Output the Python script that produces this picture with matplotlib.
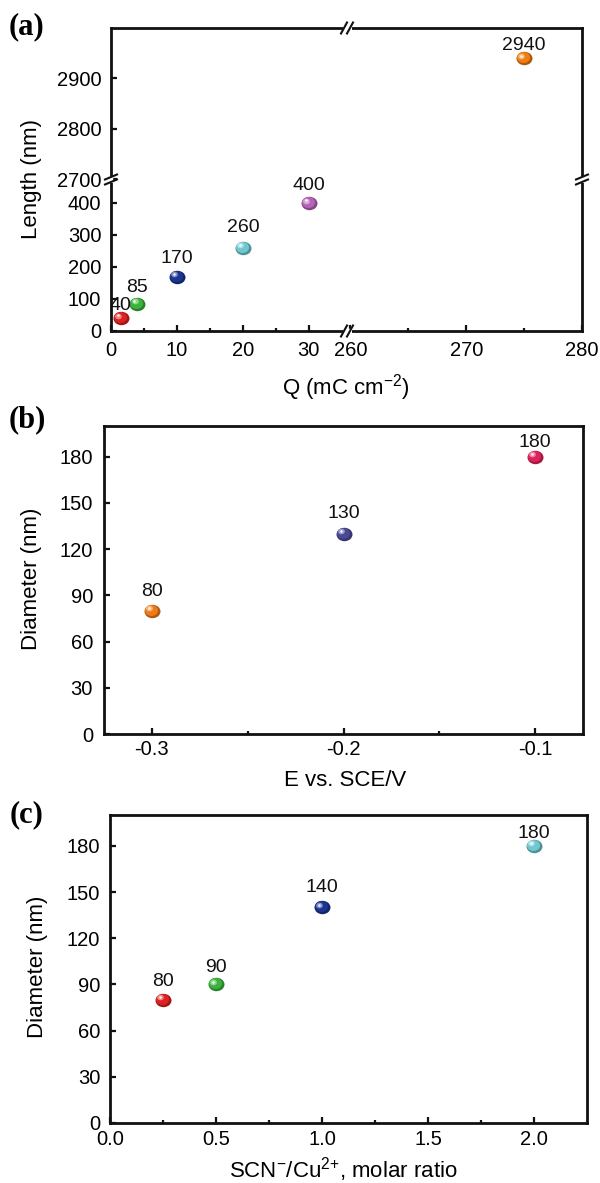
import numpy as np
import matplotlib
matplotlib.use("Agg")
import matplotlib.pyplot as plt
from matplotlib.path import Path
from matplotlib.colors import to_rgb
from matplotlib.transforms import ScaledTranslation
from matplotlib.ticker import FixedLocator, NullLocator, FixedFormatter

# ---------------- data ----------------
# (a) nanowire length vs. charge density
q_charge = [1.5, 4, 10, 20, 30, 275]
length_nm = [40, 85, 170, 260, 400, 2940]
length_labels = ["40", "85", "170", "260", "400", "2940"]
colors_a = ["#dd2222", "#3cb43c", "#1b3591", "#6fc8cf", "#b563b6", "#f07c12"]

# (b) diameter vs. potential
potential_v = [-0.3, -0.2, -0.1]
diameter_b = [80, 130, 180]
diameter_b_labels = ["80", "130", "180"]
colors_b = ["#f07a1a", "#4a4994", "#e0225c"]

# (c) diameter vs. SCN-/Cu2+ ratio
molar_ratio = [0.25, 0.5, 1.0, 2.0]
diameter_c = [80, 90, 140, 180]
diameter_c_labels = ["80", "90", "140", "180"]
colors_c = ["#dd2222", "#3cb43c", "#1b3591", "#6fc8cf"]

# tick labels
xticks_a = [0, 10, 20, 30, 260, 270, 280]
xminor_a = [5, 15, 25, 265, 275]
yticks_a = [0, 100, 200, 300, 400, 2700, 2800, 2900]
xticks_b = [-0.3, -0.2, -0.1]
xticklabels_b = ["-0.3", "-0.2", "-0.1"]
xminor_b = [-0.25, -0.15]
yticks_bc = [0, 30, 60, 90, 120, 150, 180]
xticks_c = [0.0, 0.5, 1.0, 1.5, 2.0]
xminor_c = [0.25, 0.75, 1.25, 1.75]

# ---------------- style ----------------
plt.rcParams["font.family"] = ["Liberation Sans", "DejaVu Sans"]
plt.rcParams["mathtext.fontset"] = "custom"
plt.rcParams["mathtext.rm"] = "Liberation Sans"
plt.rcParams["mathtext.it"] = "Liberation Sans:italic"
plt.rcParams["mathtext.bf"] = "Liberation Sans:bold"

W, H = 600, 1183
fig = plt.figure(figsize=(W / 100, H / 100), dpi=100)


def ax_at(left, top, right, bottom):
    return fig.add_axes([left / W, (H - bottom) / H, (right - left) / W, (bottom - top) / H])


TICK_FS = 14.5
LABEL_FS = 16
ANN_FS = 14

_uc = Path.unit_circle()
ELL = Path(_uc.vertices * np.array([1.0, 0.84]), _uc.codes)


def sphere(ax, x, y, color, size=11.5):
    base = np.array(to_rgb(color))
    dark = base * 0.72
    light = base + (1 - base) * 0.45
    ax.plot([x], [y], ls="none", marker=ELL, ms=size, mfc=dark, mec="none", zorder=5)
    t1 = ax.transData + ScaledTranslation(-0.7 / 72, 0.7 / 72, fig.dpi_scale_trans)
    ax.plot([x], [y], ls="none", marker=ELL, ms=size * 0.82, mfc=base, mec="none",
            transform=t1, zorder=6)
    t2 = ax.transData + ScaledTranslation(-1.9 / 72, 1.7 / 72, fig.dpi_scale_trans)
    ax.plot([x], [y], ls="none", marker=ELL, ms=size * 0.42, mfc=light, mec="none",
            transform=t2, zorder=7)
    t3 = ax.transData + ScaledTranslation(-2.1 / 72, 2.0 / 72, fig.dpi_scale_trans)
    ax.plot([x], [y], ls="none", marker="o", ms=size * 0.16, mfc="white", mec="none",
            alpha=0.9, transform=t3, zorder=8)


def style_axes(ax, xpad, ypad):
    for s in ax.spines.values():
        s.set_linewidth(2.0)
        s.set_color("#111111")
    ax.tick_params(which="both", direction="in", top=False, right=False,
                   labelsize=TICK_FS, color="#111111")
    ax.tick_params(which="major", length=4.5, width=1.6)
    ax.tick_params(which="minor", length=2.5, width=1.6)
    ax.tick_params(axis="x", pad=xpad)
    ax.tick_params(axis="y", pad=ypad)


def annotate(ax, x, y, text, dy_pt):
    ax.annotate(text, (x, y), xytext=(0, dy_pt), textcoords="offset points",
                ha="center", va="baseline", fontsize=ANN_FS, color="#111111", zorder=9)


# ---------------- (a) broken axes via piecewise function scales ----------------
def broken(lo_end, hi_start, len1, len2, hi_end):
    s1 = len1 / lo_end
    s2 = len2 / (hi_end - hi_start)

    def fwd(v):
        v = np.asarray(v, dtype=float)
        return np.where(v <= lo_end, v * s1,
                        np.where(v >= hi_start, len1 + (v - hi_start) * s2, len1))

    def inv(u):
        u = np.asarray(u, dtype=float)
        return np.where(u <= len1, u / s1, hi_start + (u - len1) / s2)

    return fwd, inv


axa = ax_at(111, 28, 582, 331)
axa.set_xscale("function", functions=broken(35.8, 259.7, 236, 235, 280))
axa.set_yscale("function", functions=broken(473, 2700, 151.5, 151.5, 3000))
axa.set_xlim(0, 280)
axa.set_ylim(0, 3000)
axa.xaxis.set_major_locator(FixedLocator(xticks_a))
axa.xaxis.set_major_formatter(FixedFormatter([str(t) for t in xticks_a]))
axa.xaxis.set_minor_locator(FixedLocator(xminor_a))
axa.yaxis.set_major_locator(FixedLocator(yticks_a))
axa.yaxis.set_major_formatter(FixedFormatter([str(t) for t in yticks_a]))
axa.yaxis.set_minor_locator(NullLocator())
style_axes(axa, 7, 7)

offs_a = [5.8, 8.6, 10, 11.5, 9.4, 5.8]
for x, y, lab, c, o in zip(q_charge, length_nm, length_labels, colors_a, offs_a):
    sphere(axa, x, y, c)
    annotate(axa, x, y, lab, o)

# break marks
AW, AH = 471.0, 303.0


def hbreak(ax, xf, yf):
    ax.plot([xf - 4.5 / AW, xf + 4.5 / AW], [yf, yf], color="white", lw=3.2,
            transform=ax.transAxes, clip_on=False, zorder=20, solid_capstyle="butt")
    for off in (-3.0, 3.0):
        ax.plot([xf + (off - 3) / AW, xf + (off + 3) / AW], [yf - 5.5 / AH, yf + 5.5 / AH],
                color="#111111", lw=1.5, transform=ax.transAxes, clip_on=False, zorder=21)


def vbreak(ax, xf, yf):
    ax.plot([xf, xf], [yf - 3.5 / AH, yf + 3.5 / AH], color="white", lw=3.2,
            transform=ax.transAxes, clip_on=False, zorder=20, solid_capstyle="butt")
    for off in (-2.5, 2.5):
        ax.plot([xf - 6 / AW, xf + 6 / AW], [yf + (off - 2.5) / AH, yf + (off + 2.5) / AH],
                color="#111111", lw=1.5, transform=ax.transAxes, clip_on=False, zorder=21)


xbf = 236 / AW
ybf = 151.5 / AH
hbreak(axa, xbf, 0)
hbreak(axa, xbf, 1)
vbreak(axa, 0, ybf)
vbreak(axa, 1, ybf)

# ---------------- (b) ----------------
axb = ax_at(104, 426, 583, 734)
axb.set_xlim(-0.325, -0.075)
axb.set_ylim(0, 200)
axb.xaxis.set_major_locator(FixedLocator(xticks_b))
axb.xaxis.set_major_formatter(FixedFormatter(xticklabels_b))
axb.xaxis.set_minor_locator(FixedLocator(xminor_b))
axb.yaxis.set_major_locator(FixedLocator(yticks_bc))
axb.yaxis.set_minor_locator(NullLocator())
style_axes(axb, 4, 8)
offs_b = [10.8, 11.5, 7.2]
for x, y, lab, c, o in zip(potential_v, diameter_b, diameter_b_labels, colors_b, offs_b):
    sphere(axb, x, y, c)
    annotate(axb, x, y, lab, o)

# ---------------- (c) ----------------
axc = ax_at(110, 815, 587, 1123)
axc.set_xlim(0, 2.25)
axc.set_ylim(0, 200)
axc.xaxis.set_major_locator(FixedLocator(xticks_c))
axc.xaxis.set_major_formatter(FixedFormatter([f"{t:.1f}" for t in xticks_c]))
axc.xaxis.set_minor_locator(FixedLocator(xminor_c))
axc.yaxis.set_major_locator(FixedLocator(yticks_bc))
axc.yaxis.set_minor_locator(NullLocator())
style_axes(axc, 5, 7)
offs_c = [10, 8.6, 10.8, 5.8]
for x, y, lab, c, o in zip(molar_ratio, diameter_c, diameter_c_labels, colors_c, offs_c):
    sphere(axc, x, y, c)
    annotate(axc, x, y, lab, o)

# ---------------- labels ----------------
def ftext(x, y, s, **kw):
    fig.text(x / W, 1 - y / H, s, **kw)


ftext(31, 179, "Length (nm)", rotation=90, ha="center", va="center", fontsize=LABEL_FS)
ftext(346, 388, "Q (mC cm$^{-2}$)", ha="center", va="center", fontsize=LABEL_FS)
ftext(32, 579, "Diameter (nm)", rotation=90, ha="center", va="center", fontsize=LABEL_FS)
ftext(345, 780, "E vs. SCE/V", ha="center", va="center", fontsize=LABEL_FS)
ftext(37, 967, "Diameter (nm)", rotation=90, ha="center", va="center", fontsize=LABEL_FS)
ftext(343, 1178, "SCN$^{-}$/Cu$^{2{+}}$, molar ratio", ha="center", va="baseline",
      fontsize=LABEL_FS)

for x, y, s in [(9, 27, "(a)"), (9, 420, "(b)"), (10, 815, "(c)")]:
    ftext(x, y, s, ha="left", va="center", fontsize=22, fontweight="bold",
          family=["Liberation Serif", "DejaVu Serif"])

fig.savefig("out.png", dpi=100)
